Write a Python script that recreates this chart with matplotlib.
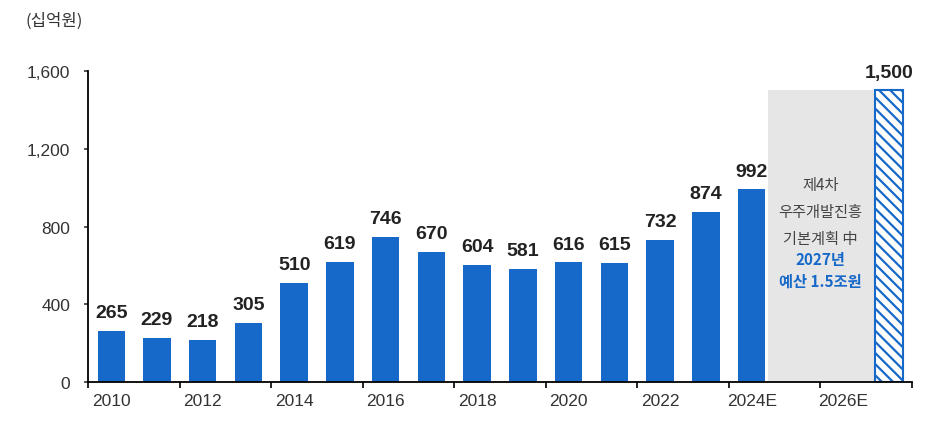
import numpy as np
import matplotlib.pyplot as plt
from matplotlib.patches import Rectangle

plt.rcParams['font.family'] = ['Liberation Sans', 'Noto Sans CJK KR', 'DejaVu Sans']
plt.rcParams['hatch.linewidth'] = 1.6

years = ['2010', '2011', '2012', '2013', '2014', '2015', '2016', '2017',
         '2018', '2019', '2020', '2021', '2022', '2023', '2024E']
budget = [265, 229, 218, 305, 510, 619, 746, 670, 604, 581, 616, 615, 732, 874, 992]
target_label = '2027E'
target_value = 1500
tick_labels = ['2010', '2012', '2014', '2016', '2018', '2020', '2022', '2024E', '2026E']

blue = '#1769c9'
fig = plt.figure(figsize=(9.4, 4.31), dpi=100)
ax = fig.add_axes([0.094, 0.111, 0.876, 0.722])

x = np.arange(len(years))
w = 0.6
ax.bar(x, budget, width=w, color=blue)
for xi, v in zip(x, budget):
    ax.annotate(f'{v:,}', (xi, v), xytext=(0, 7), textcoords='offset points',
                ha='center', va='bottom', fontsize=14, fontweight='bold', color='#222222')

# gap years shaded box + target bar
x_t = len(years) + 2
ax.add_patch(Rectangle((len(years) - 1 + w / 2 + 0.05, 0), x_t - (len(years) - 1) - w - 0.06,
                       target_value, color='#e6e6e6', lw=0, zorder=0))
ax.bar([x_t], [target_value], width=w, color='white', edgecolor=blue, hatch='\\\\\\', lw=1.5)
ax.annotate(f'{target_value:,}', (x_t, target_value), xytext=(0, 7), textcoords='offset points',
            ha='center', va='bottom', fontsize=14, fontweight='bold', color='#222222',
            annotation_clip=False)

xc = (len(years) - 1 + x_t) / 2
ax.text(xc, 1060, '제4차\n우주개발진흥\n기본계획 中', ha='center', va='top',
        fontsize=11, color='#444444', linespacing=1.75,
        family=['Noto Sans CJK KR', 'DejaVu Sans'])
ax.text(xc, 675, '2027년\n예산 1.5조원', ha='center', va='top',
        fontsize=11, fontweight='bold', color=blue, linespacing=1.45,
        family=['Noto Sans CJK KR', 'DejaVu Sans'])

ax.set_xlim(-0.5, x_t + 0.5)
ax.set_ylim(0, 1600)
ax.set_yticks([0, 400, 800, 1200, 1600])
ax.set_yticklabels([f'{t:,}' for t in [0, 400, 800, 1200, 1600]])
ax.set_xticks(np.arange(0, 18, 2))
ax.set_xticklabels(tick_labels)
ax.set_xticks(np.arange(-0.5, 17.6, 2), minor=True)
ax.tick_params(axis='x', which='major', length=0, labelsize=12.5, colors='#333333', pad=8)
ax.tick_params(axis='x', which='minor', length=4, width=1.2)
ax.tick_params(axis='y', length=3, width=1.2, labelsize=12.5, colors='#333333', pad=10)
for s in ['top', 'right']:
    ax.spines[s].set_visible(False)
ax.spines['left'].set_linewidth(1.3)
ax.spines['bottom'].set_linewidth(1.3)

fig.text(0.027, 0.94, '(십억원)', fontsize=12, color='#333333',
         family=['Noto Sans CJK KR', 'DejaVu Sans'])

fig.savefig('out.png', dpi=100)
